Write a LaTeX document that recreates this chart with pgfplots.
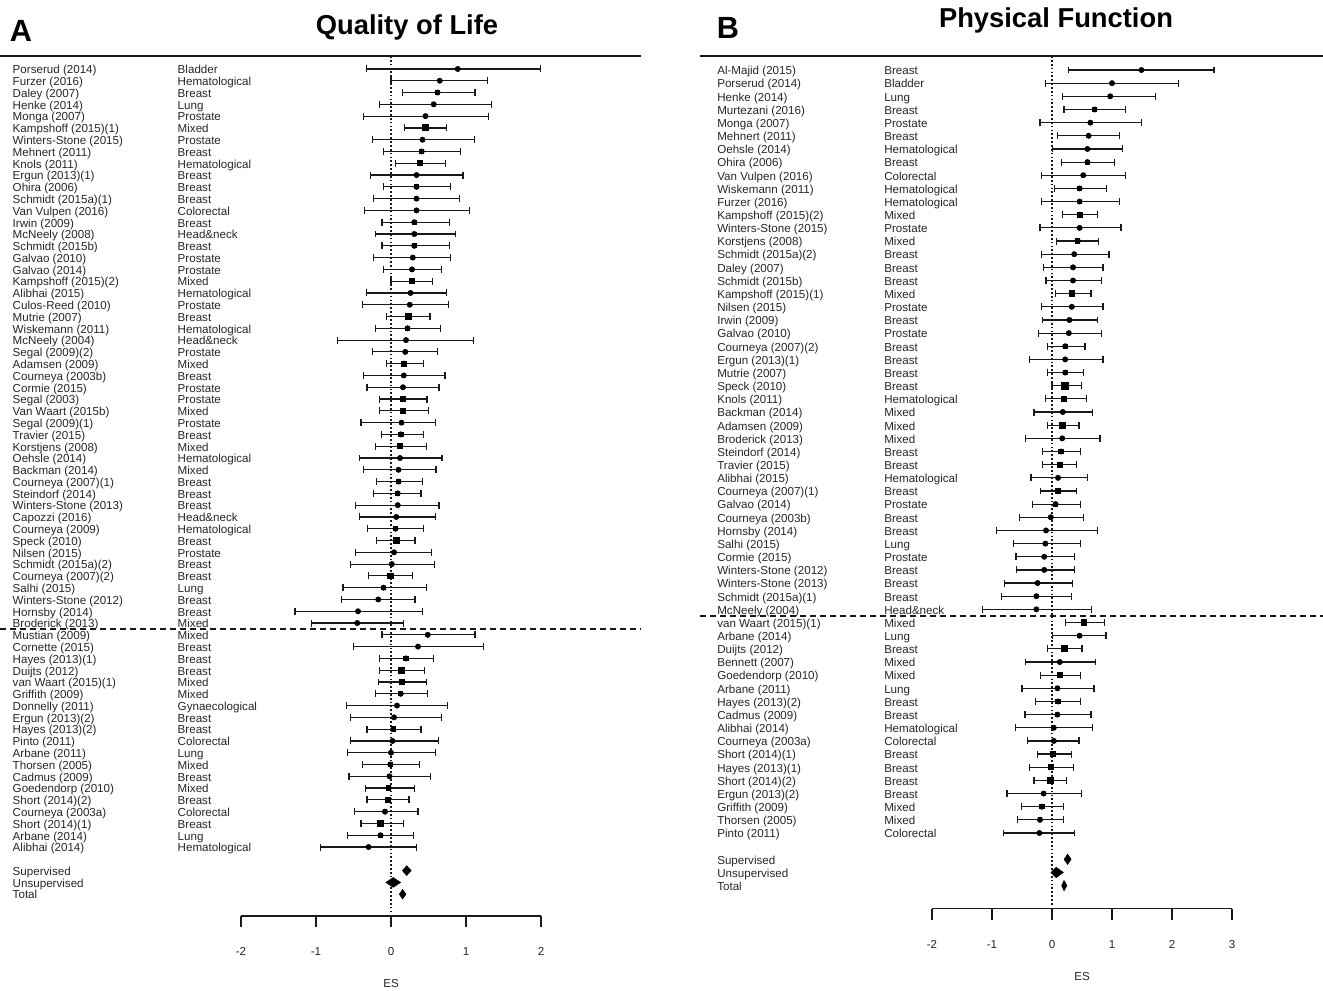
\documentclass[border=0pt]{standalone}
\usepackage{pgfplots}
\usepackage{pgfplotstable}
\pgfplotsset{compat=1.18}
\usepackage{fontspec}
\setmainfont{Liberation Sans}

\pgfplotstableread[col sep=comma]{
row,es,lo,hi,sz,name,type
1,0.89,-0.33,1.99,2.5,Porserud (2014),Bladder
2,0.65,0.00,1.29,3.6,Furzer (2016),Hematological
3,0.62,0.15,1.12,3.6,Daley (2007),Breast
4,0.57,-0.15,1.34,1.8,Henke (2014),Lung
5,0.46,-0.37,1.30,2.5,Monga (2007),Prostate
6,0.46,0.18,0.74,6.4,Kampshoff (2015)(1),Mixed
7,0.42,-0.25,1.11,2.5,Winters-Stone (2015),Prostate
8,0.41,-0.10,0.93,3.8,Mehnert (2011),Breast
9,0.39,0.06,0.73,5.2,Knols (2011),Hematological
10,0.34,-0.27,0.96,2.3,Ergun (2013)(1),Breast
11,0.34,-0.10,0.79,4.2,Ohira (2006),Breast
12,0.34,-0.23,0.91,2.3,Schmidt (2015a)(1),Breast
13,0.34,-0.35,1.05,2.5,Van Vulpen (2016),Colorectal
14,0.31,-0.12,0.78,4.0,Irwin (2009),Breast
15,0.31,-0.21,0.86,4.0,McNeely (2008),Head\&neck
16,0.31,-0.12,0.78,4.0,Schmidt (2015b),Breast
17,0.29,-0.23,0.79,3.0,Galvao (2010),Prostate
18,0.28,-0.10,0.67,3.8,Galvao (2014),Prostate
19,0.28,0.00,0.55,5.8,Kampshoff (2015)(2),Mixed
20,0.26,-0.33,0.74,3.2,Alibhai (2015),Hematological
21,0.25,-0.38,0.77,2.8,Culos-Reed (2010),Prostate
22,0.23,-0.06,0.52,5.8,Mutrie (2007),Breast
23,0.22,-0.21,0.66,4.2,Wiskemann (2011),Hematological
24,0.20,-0.71,1.10,1.6,McNeely (2004),Head\&neck
25,0.19,-0.25,0.62,3.4,Segal (2009)(2),Prostate
26,0.17,-0.06,0.43,5.6,Adamsen (2009),Mixed
27,0.17,-0.37,0.72,3.0,Courneya (2003b),Breast
28,0.16,-0.32,0.64,2.8,Cormie (2015),Prostate
29,0.16,-0.15,0.48,4.6,Segal (2003),Prostate
30,0.16,-0.15,0.50,5.0,Van Waart (2015b),Mixed
31,0.14,-0.40,0.59,3.0,Segal (2009)(1),Prostate
32,0.13,-0.13,0.43,5.0,Travier (2015),Breast
33,0.12,-0.21,0.47,5.0,Korstjens (2008),Mixed
34,0.12,-0.42,0.68,2.8,Oehsle (2014),Hematological
35,0.10,-0.37,0.60,2.8,Backman (2014),Mixed
36,0.10,-0.19,0.42,4.6,Courneya (2007)(1),Breast
37,0.09,-0.23,0.40,4.4,Steindorf (2014),Breast
38,0.09,-0.47,0.64,2.8,Winters-Stone (2013),Breast
39,0.07,-0.42,0.59,2.8,Capozzi (2016),Head\&neck
40,0.06,-0.31,0.43,4.6,Courneya (2009),Hematological
41,0.07,-0.19,0.32,5.8,Speck (2010),Breast
42,0.04,-0.47,0.54,3.2,Nilsen (2015),Prostate
43,0.01,-0.54,0.58,2.5,Schmidt (2015a)(2),Breast
44,-0.01,-0.30,0.29,5.8,Courneya (2007)(2),Breast
45,-0.10,-0.64,0.47,3.2,Salhi (2015),Lung
46,-0.17,-0.66,0.32,3.0,Winters-Stone (2012),Breast
47,-0.44,-1.28,0.42,1.6,Hornsby (2014),Breast
48,-0.45,-1.06,0.17,2.3,Broderick (2013),Mixed
49,0.49,-0.12,1.12,2.0,Mustian (2009),Mixed
50,0.36,-0.50,1.23,1.5,Cornette (2015),Breast
51,0.20,-0.15,0.57,5.0,Hayes (2013)(1),Breast
52,0.14,-0.15,0.45,6.4,Duijts (2012),Breast
53,0.15,-0.17,0.47,5.4,van Waart (2015)(1),Mixed
54,0.13,-0.21,0.49,4.6,Griffith (2009),Mixed
55,0.08,-0.59,0.75,2.0,Donnelly (2011),Gynaecological
56,0.04,-0.54,0.67,3.0,Ergun (2013)(2),Breast
57,0.03,-0.32,0.40,4.6,Hayes (2013)(2),Breast
58,0.02,-0.54,0.63,3.0,Pinto (2011),Colorectal
59,0.00,-0.58,0.59,2.0,Arbane (2011),Lung
60,-0.01,-0.38,0.38,3.8,Thorsen (2005),Mixed
61,-0.02,-0.56,0.53,2.8,Cadmus (2009),Breast
62,-0.03,-0.34,0.31,4.6,Goedendorp (2010),Mixed
63,-0.04,-0.32,0.24,5.4,Short (2014)(2),Breast
64,-0.08,-0.49,0.36,4.0,Courneya (2003a),Colorectal
65,-0.14,-0.40,0.17,5.4,Short (2014)(1),Breast
66,-0.14,-0.58,0.30,3.8,Arbane (2014),Lung
67,-0.30,-0.94,0.34,2.0,Alibhai (2014),Hematological
}\qoltable

\pgfplotstableread[col sep=comma]{
row,es,lo,hi,sz,name,type
1,1.49,0.27,2.70,1.4,Al-Majid (2015),Breast
2,1.00,-0.11,2.11,1.4,Porserud (2014),Bladder
3,0.97,0.18,1.73,3.0,Henke (2014),Lung
4,0.71,0.20,1.22,4.0,Murtezani (2016),Breast
5,0.64,-0.20,1.49,2.0,Monga (2007),Prostate
6,0.61,0.09,1.13,3.2,Mehnert (2011),Breast
7,0.59,0.01,1.18,3.2,Oehsle (2014),Hematological
8,0.59,0.16,1.04,4.4,Ohira (2006),Breast
9,0.52,-0.18,1.22,3.0,Van Vulpen (2016),Colorectal
10,0.46,0.04,0.91,4.0,Wiskemann (2011),Hematological
11,0.46,-0.17,1.12,3.0,Furzer (2016),Hematological
12,0.46,0.17,0.76,5.4,Kampshoff (2015)(2),Mixed
13,0.46,-0.20,1.15,3.0,Winters-Stone (2015),Prostate
14,0.43,0.08,0.77,4.4,Korstjens (2008),Mixed
15,0.37,-0.18,0.95,3.4,Schmidt (2015a)(2),Breast
16,0.35,-0.14,0.85,3.4,Daley (2007),Breast
17,0.35,-0.10,0.82,3.4,Schmidt (2015b),Breast
18,0.33,0.06,0.65,5.8,Kampshoff (2015)(1),Mixed
19,0.33,-0.17,0.85,3.4,Nilsen (2015),Prostate
20,0.29,-0.16,0.76,3.8,Irwin (2009),Breast
21,0.28,-0.23,0.82,2.5,Galvao (2010),Prostate
22,0.22,-0.08,0.55,4.6,Courneya (2007)(2),Breast
23,0.22,-0.38,0.85,2.5,Ergun (2013)(1),Breast
24,0.22,-0.08,0.53,4.6,Mutrie (2007),Breast
25,0.22,0.00,0.49,7.0,Speck (2010),Breast
26,0.20,-0.11,0.57,4.6,Knols (2011),Hematological
27,0.18,-0.30,0.68,3.4,Backman (2014),Mixed
28,0.18,-0.08,0.45,6.0,Adamsen (2009),Mixed
29,0.17,-0.44,0.80,3.0,Broderick (2013),Mixed
30,0.15,-0.16,0.48,5.0,Steindorf (2014),Breast
31,0.13,-0.16,0.41,5.4,Travier (2015),Breast
32,0.10,-0.35,0.59,3.4,Alibhai (2015),Hematological
33,0.10,-0.19,0.41,5.8,Courneya (2007)(1),Breast
34,0.06,-0.33,0.48,4.0,Galvao (2014),Prostate
35,-0.02,-0.54,0.53,3.0,Courneya (2003b),Breast
36,-0.10,-0.93,0.76,2.0,Hornsby (2014),Breast
37,-0.11,-0.64,0.48,3.0,Salhi (2015),Lung
38,-0.13,-0.60,0.38,3.4,Cormie (2015),Prostate
39,-0.13,-0.59,0.38,3.4,Winters-Stone (2012),Breast
40,-0.24,-0.79,0.34,3.4,Winters-Stone (2013),Breast
41,-0.26,-0.84,0.32,3.4,Schmidt (2015a)(1),Breast
42,-0.26,-1.16,0.66,2.0,McNeely (2004),Head\&neck
43,0.53,0.23,0.87,5.4,van Waart (2015)(1),Mixed
44,0.46,0.01,0.90,3.4,Arbane (2014),Lung
45,0.21,-0.08,0.50,6.0,Duijts (2012),Breast
46,0.13,-0.44,0.72,2.0,Bennett (2007),Mixed
47,0.13,-0.19,0.48,5.0,Goedendorp (2010),Mixed
48,0.09,-0.50,0.70,3.0,Arbane (2011),Lung
49,0.10,-0.27,0.48,4.6,Hayes (2013)(2),Breast
50,0.09,-0.45,0.65,3.0,Cadmus (2009),Breast
51,0.03,-0.61,0.68,2.0,Alibhai (2014),Hematological
52,0.03,-0.41,0.45,3.4,Courneya (2003a),Colorectal
53,0.02,-0.24,0.32,5.4,Short (2014)(1),Breast
54,-0.02,-0.38,0.36,5.0,Hayes (2013)(1),Breast
55,-0.03,-0.30,0.24,6.0,Short (2014)(2),Breast
56,-0.14,-0.75,0.49,2.5,Ergun (2013)(2),Breast
57,-0.17,-0.51,0.19,4.6,Griffith (2009),Mixed
58,-0.20,-0.57,0.19,4.0,Thorsen (2005),Mixed
59,-0.21,-0.81,0.37,3.4,Pinto (2011),Colorectal
}\pftable

\pgfplotstableread[col sep=comma]{
row,name
69,Supervised
70,Unsupervised
71,Total
}\qolsum

\pgfplotstableread[col sep=comma]{
row,name
61,Supervised
62,Unsupervised
63,Total
}\pfsum

\newcommand{\rowfont}{\fontsize{8.7}{10}\selectfont}

\pgfplotsset{
  forest/.style={
    scale only axis, clip=false,
    axis y line=none, axis x line*=bottom,
    xtick align=outside, major tick length=8.25pt,
    axis line style={line width=1.1pt, black!90},
    tick style={line width=1.1pt, black!90},
    xticklabel style={anchor=center, yshift=-18.5pt, font=\rowfont, text=black!85},
    xlabel=ES,
    xlabel style={at={(axis description cs:0.5,0)}, anchor=center, yshift=-50.5pt, font=\rowfont, text=black!85},
  },
  textcol/.style={only marks, mark=none, nodes near coords, point meta=explicit symbolic,
    every node near coord/.append style={anchor=base west, inner sep=0pt, yshift=-3.6pt, font=\rowfont, text=black!85}},
  cis/.style={only marks, mark=none,
    error bars/.cd, x dir=both, x explicit, error mark=|,
    error bar style={line width=0.9pt, black!90},
    error mark options={line width=0.9pt, black!90, mark size=2.6pt}},
  boxes/.style={scatter, only marks, mark=square*,
    scatter/use mapped color={draw=black, fill=black},
    mark options={line width=0pt},
    visualization depends on={\thisrow{sz}*0.36 \as \msz},
    scatter/@pre marker code/.append style={/tikz/mark size=\msz}},
}

\begin{document}
\begin{tikzpicture}[x=1pt,y=1pt]
\path[use as bounding box] (0,0) rectangle (992.25,742.5);

\node[font=\fontsize{23}{26}\selectfont\bfseries, text=black] at (15.75,719.5) {A};
\node[font=\fontsize{20.5}{24}\selectfont\bfseries, text=black] at (305.25,722) {Quality of Life};
\node[font=\fontsize{23}{26}\selectfont\bfseries, text=black] at (546,721.5) {B};
\node[font=\fontsize{20.5}{24}\selectfont\bfseries, text=black] at (792,727) {Physical Function};

% ---------------- Panel A ----------------
\begin{axis}[forest, at={(180.75pt,55.5pt)}, anchor=south west,
  width=225pt, height=645pt,
  xmin=-2, xmax=2, ymin=-72.85, ymax=0.1,
  xtick={-2,-1,0,1,2}, xticklabels={-2,-1,0,1,2}]
  \draw[line width=1.1pt, black!90] (axis cs:-5.213,0.1) -- (axis cs:3.333,0.1);
  \draw[line width=0.9pt, black!90, dash pattern=on 1.3pt off 1.6pt] (axis cs:0,0.1) -- (axis cs:0,-72.4);
  \draw[line width=0.9pt, black!90, dash pattern=on 4.5pt off 3pt] (axis cs:-5.213,-48.5) -- (axis cs:3.333,-48.5);
  \addplot[cis] table[x=es, y expr=-\thisrow{row}, x error plus expr=\thisrow{hi}-\thisrow{es}, x error minus expr=\thisrow{es}-\thisrow{lo}] {\qoltable};
  \addplot[boxes] table[x=es, y expr=-\thisrow{row}] {\qoltable};
  \addplot[textcol] table[x expr=-5.047, y expr=-\thisrow{row}, meta=name] {\qoltable};
  \addplot[textcol] table[x expr=-2.847, y expr=-\thisrow{row}, meta=type] {\qoltable};
  \addplot[textcol] table[x expr=-5.047, y expr=-\thisrow{row}, meta=name] {\qolsum};
  \addplot[fill=black, draw=black, line width=0.3pt] coordinates {(0.15,-69) (0.21,-68.58) (0.27,-69) (0.21,-69.42)} --cycle;
  \addplot[fill=black, draw=black, line width=0.3pt] coordinates {(-0.07,-70) (0.03,-69.58) (0.13,-70) (0.03,-70.42)} --cycle;
  \addplot[fill=black, draw=black, line width=0.3pt] coordinates {(0.11,-71) (0.155,-70.58) (0.20,-71) (0.155,-71.42)} --cycle;
\end{axis}

% ---------------- Panel B ----------------
\begin{axis}[forest, at={(699pt,60.975pt)}, anchor=south west,
  width=225pt, height=639.5pt,
  xmin=-2, xmax=3, ymin=-64.755, ymax=0.064,
  xtick={-2,-1,0,1,2,3}, xticklabels={-2,-1,0,1,2,3}]
  \draw[line width=1.1pt, black!90] (axis cs:-5.867,0.064) -- (axis cs:4.517,0.064);
  \draw[line width=0.9pt, black!90, dash pattern=on 1.3pt off 1.6pt] (axis cs:0,0.064) -- (axis cs:0,-64.6);
  \draw[line width=0.9pt, black!90, dash pattern=on 4.5pt off 3pt] (axis cs:-5.867,-42.5) -- (axis cs:4.517,-42.5);
  \addplot[cis] table[x=es, y expr=-\thisrow{row}, x error plus expr=\thisrow{hi}-\thisrow{es}, x error minus expr=\thisrow{es}-\thisrow{lo}] {\pftable};
  \addplot[boxes] table[x=es, y expr=-\thisrow{row}] {\pftable};
  \addplot[textcol] table[x expr=-5.583, y expr=-\thisrow{row}, meta=name] {\pftable};
  \addplot[textcol] table[x expr=-2.8, y expr=-\thisrow{row}, meta=type] {\pftable};
  \addplot[textcol] table[x expr=-5.583, y expr=-\thisrow{row}, meta=name] {\pfsum};
  \addplot[fill=black, draw=black, line width=0.3pt] coordinates {(0.20,-61) (0.26,-60.6) (0.32,-61) (0.26,-61.4)} --cycle;
  \addplot[fill=black, draw=black, line width=0.3pt] coordinates {(-0.02,-62) (0.07,-61.6) (0.19,-62) (0.07,-62.4)} --cycle;
  \addplot[fill=black, draw=black, line width=0.3pt] coordinates {(0.16,-63) (0.20,-62.6) (0.25,-63) (0.20,-63.4)} --cycle;
\end{axis}
\end{tikzpicture}
\end{document}
